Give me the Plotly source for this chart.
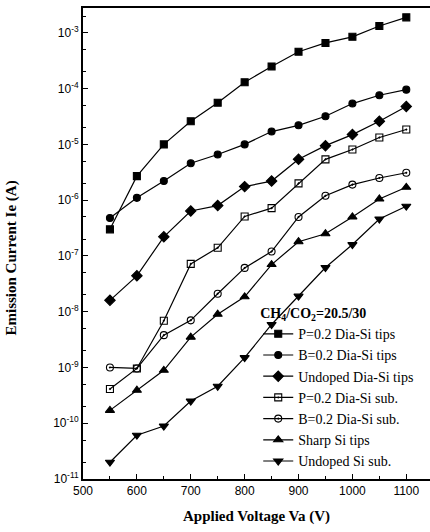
import plotly.graph_objects as go

voltage = [550, 600, 650, 700, 750, 800, 850, 900, 950, 1000, 1050, 1100]

p_dia_tips = [3.0e-7, 2.7e-6, 1.0e-5, 2.6e-5, 5.6e-5, 1.3e-4, 2.5e-4, 4.6e-4, 6.6e-4, 8.5e-4, 1.33e-3, 1.9e-3]
b_dia_tips = [4.8e-7, 1.1e-6, 2.2e-6, 4.6e-6, 6.6e-6, 1.0e-5, 1.7e-5, 2.2e-5, 3.2e-5, 5.4e-5, 7.6e-5, 9.6e-5]
undoped_dia_tips = [1.6e-8, 4.4e-8, 2.2e-7, 6.4e-7, 8.0e-7, 1.75e-6, 2.2e-6, 5.4e-6, 9.5e-6, 1.5e-5, 2.6e-5, 4.8e-5]
p_dia_sub = [4.1e-10, 9.6e-10, 6.9e-9, 7.2e-8, 1.4e-7, 5.1e-7, 7.2e-7, 2.0e-6, 5.4e-6, 8.1e-6, 1.33e-5, 1.85e-5]
b_dia_sub = [1.0e-9, 9.6e-10, 3.8e-9, 7.0e-9, 2.1e-8, 6.1e-8, 1.2e-7, 5.0e-7, 1.2e-6, 1.9e-6, 2.5e-6, 3.1e-6]
sharp_si_tips = [1.7e-10, 3.9e-10, 8.9e-10, 3.5e-9, 9.0e-9, 1.85e-8, 7.0e-8, 1.8e-7, 2.5e-7, 5.0e-7, 1.05e-6, 1.7e-6]
undoped_si_sub = [2.0e-11, 6.1e-11, 8.9e-11, 2.5e-10, 4.6e-10, 1.5e-9, 5.9e-9, 1.9e-8, 6.2e-8, 1.6e-7, 4.6e-7, 7.8e-7]

series_names = ["P=0.2 Dia-Si tips", "B=0.2 Dia-Si tips", "Undoped Dia-Si tips",
                "P=0.2 Dia-Si sub.", "B=0.2 Dia-Si sub.", "Sharp Si tips", "Undoped Si sub."]
series_values = [p_dia_tips, b_dia_tips, undoped_dia_tips, p_dia_sub, b_dia_sub, sharp_si_tips, undoped_si_sub]
symbols = ["square", "circle", "diamond", "square-open-dot", "circle-open-dot", "triangle-up", "triangle-down"]
sizes = [7, 7, 8, 7, 7, 8, 8]

ytick_exp = [-11, -10, -9, -8, -7, -6, -5, -4, -3]
xtick_vals = [500, 600, 700, 800, 900, 1000, 1100]

fig = go.Figure()
for name, vals, sym, sz in zip(series_names, series_values, symbols, sizes):
    fig.add_trace(go.Scatter(
        x=voltage, y=vals, name=name, mode="lines+markers",
        line=dict(color="black", width=1.2),
        marker=dict(symbol=sym, size=sz, color="black",
                    line=dict(color="black", width=1.1)),
    ))

fig.update_layout(
    width=430, height=532,
    margin=dict(l=83, r=0, t=8, b=53, autoexpand=False),
    paper_bgcolor="white", plot_bgcolor="white",
    showlegend=True,
    legend=dict(
        x=0.505, y=0.38, xanchor="left", yanchor="top",
        bgcolor="rgba(0,0,0,0)",
        font=dict(family="Liberation Serif", size=14, color="black"),
        title=dict(text="<b>CH<sub>4</sub>/CO<sub>2</sub>=20.5/30</b>",
                   font=dict(family="Liberation Serif", size=14, color="black")),
        tracegroupgap=0, itemwidth=30,
    ),
    xaxis=dict(
        range=[500, 1144], tickvals=xtick_vals, automargin=False,
        ticks="inside", ticklen=5, tickwidth=1.2, tickcolor="black",
        minor=dict(dtick=50, ticks="inside", ticklen=3, tickcolor="black"),
        showline=True, linecolor="black", linewidth=2, mirror=True,
        showgrid=False, zeroline=False,
        tickfont=dict(family="Liberation Sans", size=12, color="black"),
    ),
    yaxis=dict(
        type="log", range=[-11, -2.554], automargin=False,
        tickvals=[10 ** e for e in ytick_exp],
        ticktext=["10<sup>%d</sup>" % e for e in ytick_exp],
        ticks="inside", ticklen=5, tickwidth=1.2, tickcolor="black",
        minor=dict(ticks="inside", ticklen=3, tickcolor="black", showgrid=False),
        showline=True, linecolor="black", linewidth=2, mirror=False,
        showgrid=False, zeroline=False,
        tickfont=dict(family="Liberation Sans", size=12, color="black"),
    ),
    annotations=[
        dict(text="<b>Applied Voltage Va (V)</b>", xref="paper", yref="paper",
             x=0.5, y=-0.08, xanchor="center", yanchor="middle", showarrow=False,
             font=dict(family="Liberation Serif", size=15, color="black")),
        dict(text="<b>Emission Current Ie (A)</b>", xref="paper", yref="paper",
             x=-0.205, y=0.47, xanchor="center", yanchor="middle", showarrow=False,
             textangle=-90,
             font=dict(family="Liberation Serif", size=15, color="black")),
    ],
)

fig.write_html("out.html", config={"displayModeBar": False},
               post_script="document.body.style.margin='0';document.body.style.overflow='hidden';")
